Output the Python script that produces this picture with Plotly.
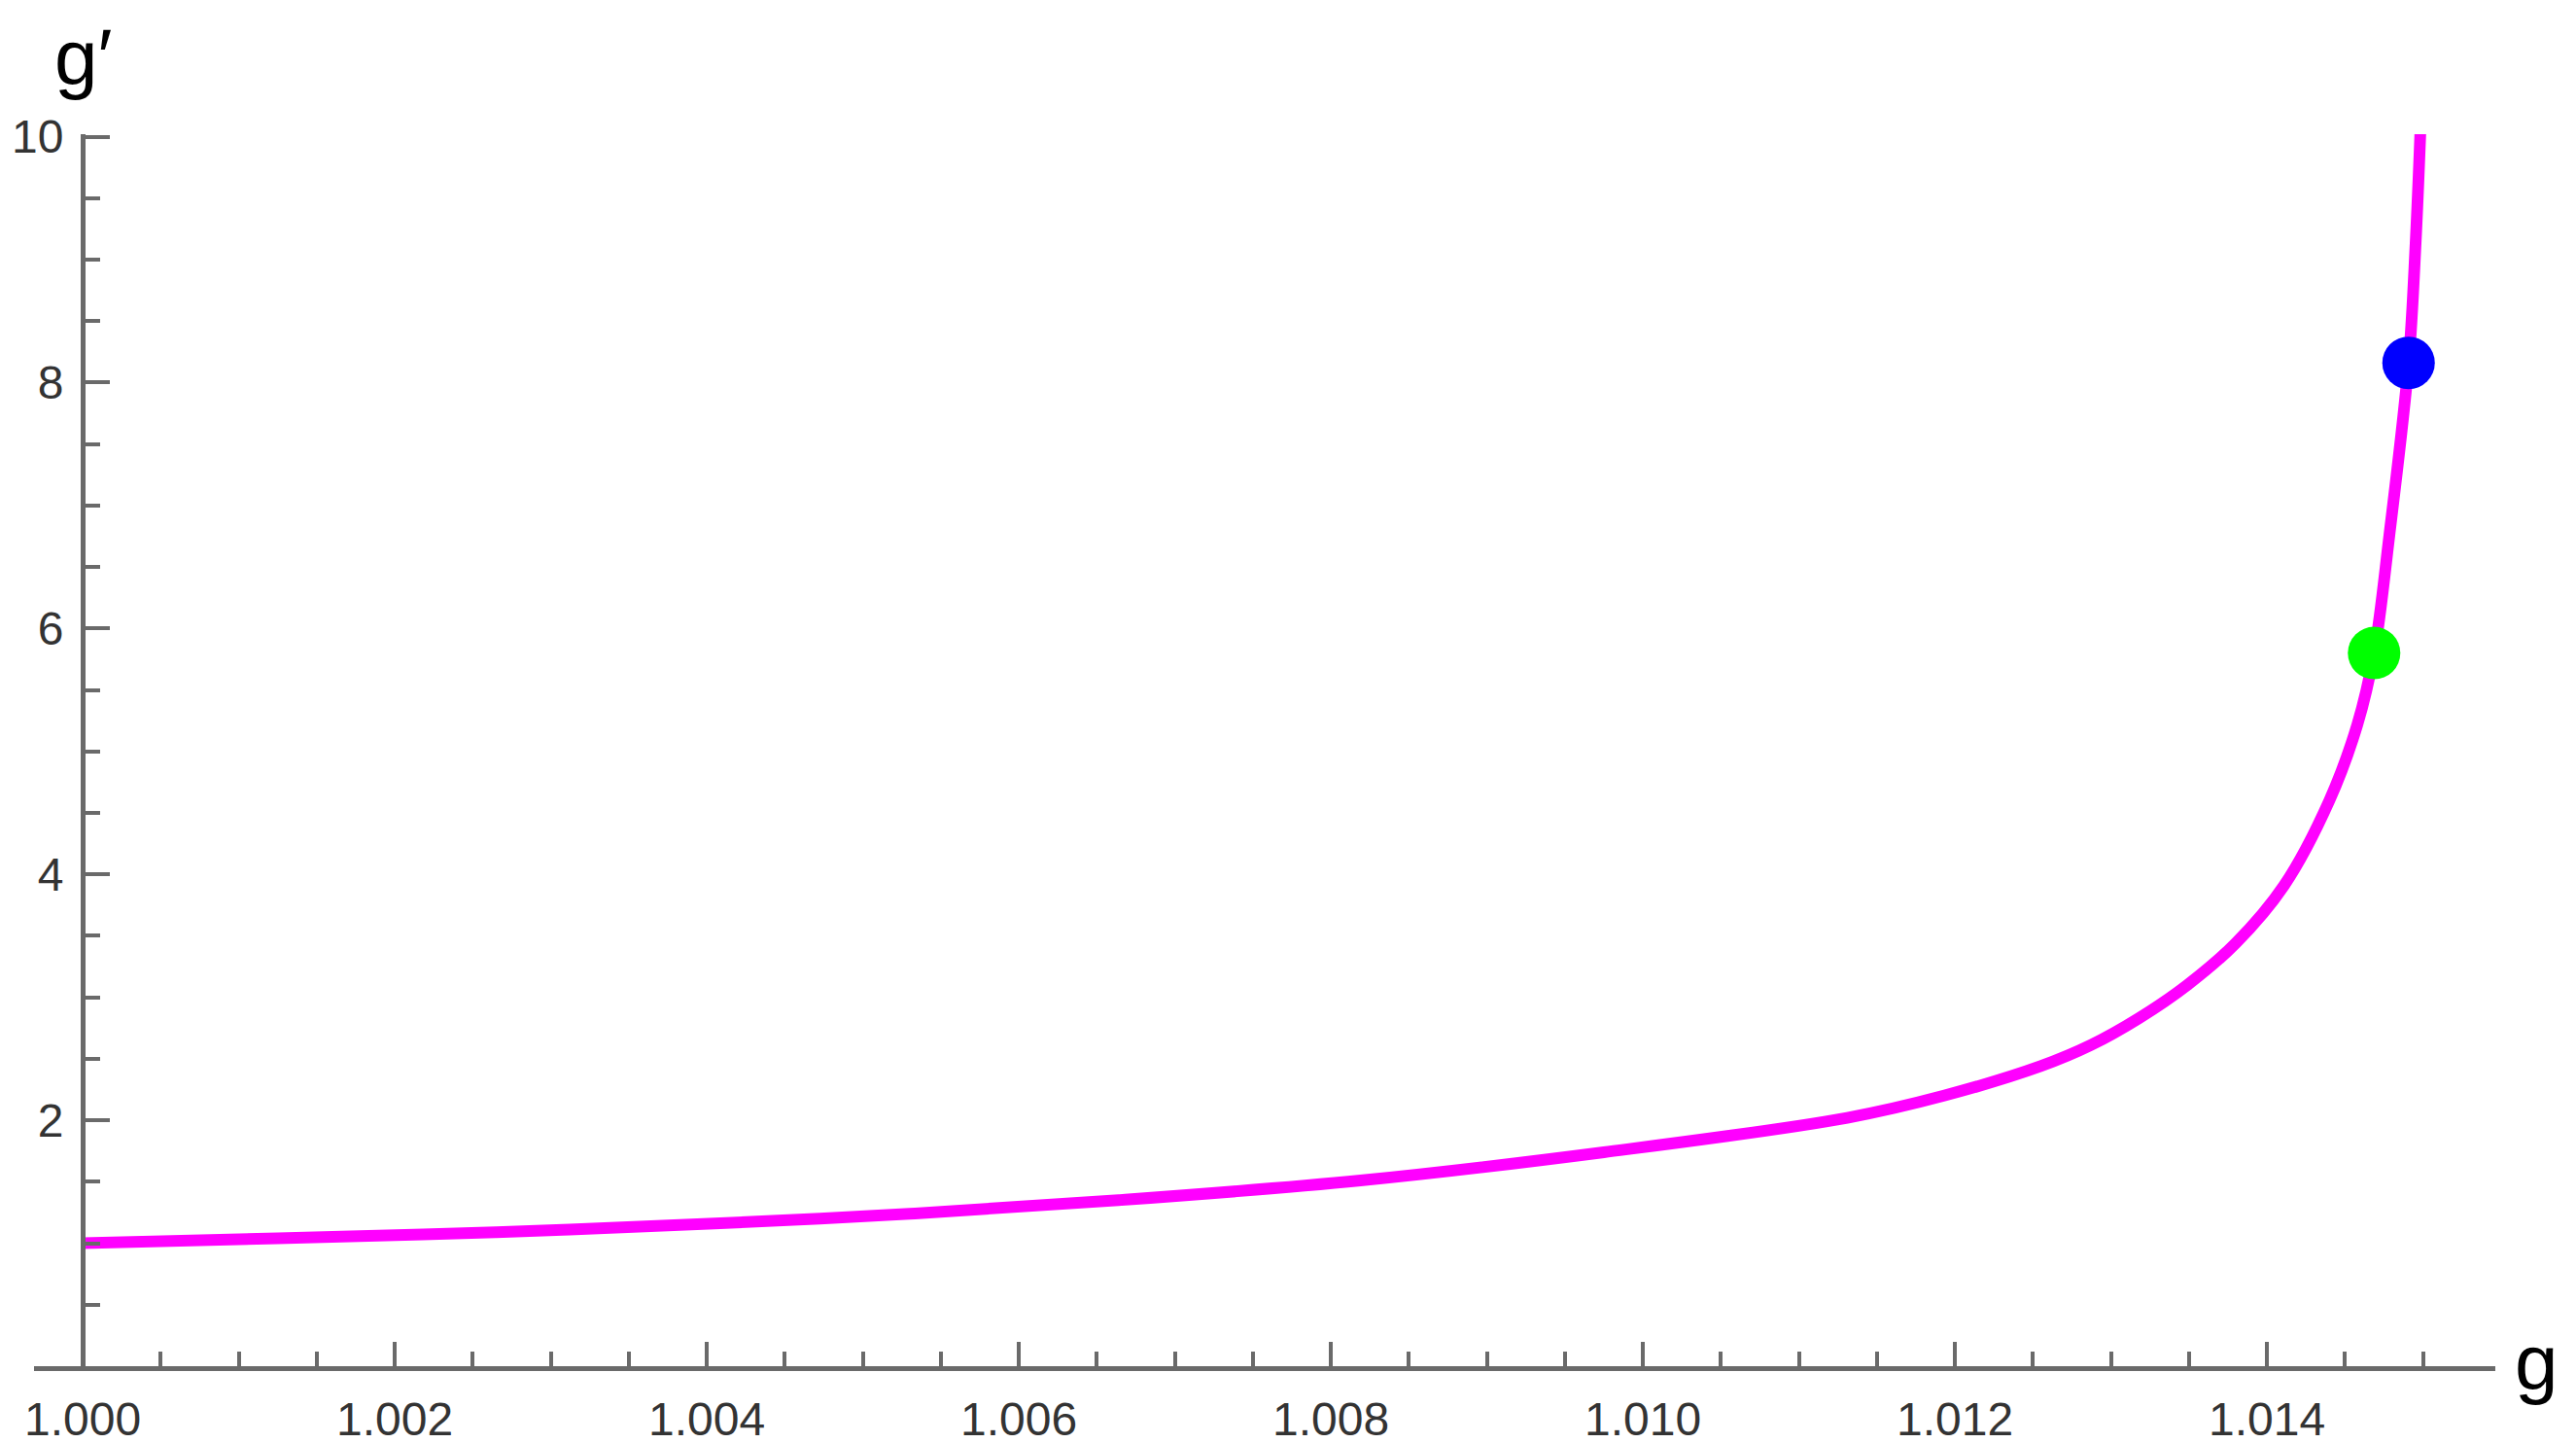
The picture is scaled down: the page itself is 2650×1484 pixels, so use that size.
import plotly.graph_objects as go

# curve g' vs g
g_vals = [1.000, 1.00125, 1.00265, 1.00405, 1.0053, 1.00664, 1.00819, 1.00975,
          1.01131, 1.01193, 1.01255, 1.01287, 1.01318, 1.01349, 1.0138, 1.01411,
          1.0144, 1.01458, 1.014687, 1.014785, 1.014908, 1.014953, 1.014984]
gp_vals = [1.00, 1.04, 1.09, 1.16, 1.24, 1.35, 1.51, 1.74,
           2.02, 2.20, 2.44, 2.61, 2.83, 3.10, 3.44, 3.91,
           4.60, 5.22, 5.80, 6.76, 8.16, 9.13, 10.05]

green_pt = (1.014687, 5.80)
blue_pt = (1.014908, 8.16)

x_ticks = [1.000, 1.002, 1.004, 1.006, 1.008, 1.010, 1.012, 1.014]
y_ticks = [2, 4, 6, 8, 10]

W, H = 2650, 1484
OFF = 8  # browser body margin
PLOT_L, PLOT_R, PLOT_T, PLOT_B = 35 - OFF, 2567 - OFF, 138 - OFF, 1405 - OFF
X_RANGE = [0.999688, 1.015464]
Y_RANGE = [0, 10.02]

AXIS_COLOR = "#6a6a6a"
TICK_FONT = dict(family="Liberation Sans, Arial, sans-serif", size=48, color="#333333")
LABEL_FONT = dict(family="Liberation Sans, Arial, sans-serif", size=80, color="black")


def screen_to_paper(sx, sy):
    px, py = sx - OFF, sy - OFF
    return (px - PLOT_L) / (PLOT_R - PLOT_L), (PLOT_B - py) / (PLOT_B - PLOT_T)


fig = go.Figure()
fig.add_trace(go.Scatter(
    x=g_vals, y=gp_vals, mode="lines",
    line=dict(color="#ff00ff", width=12, shape="spline", smoothing=1.0),
    hoverinfo="skip", showlegend=False,
))
fig.add_trace(go.Scatter(
    x=[green_pt[0]], y=[green_pt[1]], mode="markers",
    marker=dict(color="#00ff00", size=54, line=dict(width=0)), showlegend=False,
))
fig.add_trace(go.Scatter(
    x=[blue_pt[0]], y=[blue_pt[1]], mode="markers",
    marker=dict(color="#0000ff", size=54, line=dict(width=0)), showlegend=False,
))

yaxis_pos = (1.0 - X_RANGE[0]) / (X_RANGE[1] - X_RANGE[0])

fig.update_layout(
    width=W, height=H,
    margin=dict(l=PLOT_L, r=W - PLOT_R, t=PLOT_T, b=H - PLOT_B, pad=0),
    plot_bgcolor="white", paper_bgcolor="white",
    xaxis=dict(
        range=X_RANGE, showgrid=False, zeroline=False, automargin=False,
        showline=True, linecolor=AXIS_COLOR, linewidth=5,
        tickmode="array", tickvals=x_ticks, ticktext=[f"{v:.3f}" for v in x_ticks],
        ticks="inside", ticklen=25, tickwidth=4, tickcolor=AXIS_COLOR,
        tickfont=TICK_FONT, ticklabelstandoff=8,
        minor=dict(tick0=1.0, dtick=0.0005, ticks="inside", ticklen=15,
                   tickwidth=4, tickcolor=AXIS_COLOR),
    ),
    yaxis=dict(
        range=Y_RANGE, showgrid=False, zeroline=False, automargin=False,
        anchor="free", position=yaxis_pos,
        showline=True, linecolor=AXIS_COLOR, linewidth=5,
        tickmode="array", tickvals=y_ticks, ticktext=[str(v) for v in y_ticks],
        ticks="inside", ticklen=25, tickwidth=4, tickcolor=AXIS_COLOR,
        tickfont=TICK_FONT, ticklabelstandoff=8,
        minor=dict(tick0=0, dtick=0.5, ticks="inside", ticklen=15,
                   tickwidth=4, tickcolor=AXIS_COLOR),
    ),
)

gx, gy = screen_to_paper(86, 58)
fig.add_annotation(x=gx, y=gy, xref="paper", yref="paper", text="g\u2032",
                   showarrow=False, font=LABEL_FONT, xanchor="center", yanchor="middle")
gx, gy = screen_to_paper(2610, 1400)
fig.add_annotation(x=gx, y=gy, xref="paper", yref="paper", text="g",
                   showarrow=False, font=LABEL_FONT, xanchor="center", yanchor="middle")

fig.write_html("out.html")
